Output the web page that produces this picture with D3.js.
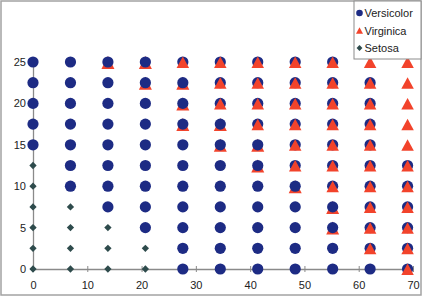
<!DOCTYPE html>
<html>
<head>
<meta charset="utf-8">
<script src="https://cdn.jsdelivr.net/npm/d3@7"></script>
<style>
  html, body { margin: 0; padding: 0; background: #fff; }
  svg { display: block; font-family: "Liberation Sans", Arial, sans-serif; }
</style>
</head>
<body>
<svg id="chart"></svg>
<script>
// grid positions
const xValues = [0, 6.9, 13.8, 20.7, 27.6, 34.5, 41.4, 48.3, 55.2, 62.1, 69];
const yValues = [0, 2.5, 5, 7.5, 10, 12.5, 15, 17.5, 20, 22.5, 25];
const xTicks = [0, 10, 20, 30, 40, 50, 60, 70];
const yTicks = [0, 5, 10, 15, 20, 25];
const seriesNames = ['Versicolor', 'Virginica', 'Setosa'];

// one string per row (y = 0 upward), one char per column
// S = Setosa, B = Versicolor, R = Virginica,
// b = Versicolor drawn over Virginica, r = Virginica drawn over Versicolor
const cellClasses = [
  'SSSSBBBBBBr',
  'SSSSBBBBBrr',
  'SSSBBBBBbrr',
  'SSBBBBBBbrr',
  'SBBBBBBbrrr',
  'SBBBBBbrrrr',
  'BBBBBbbrrrR',
  'BBBBbbrrrrR',
  'BBBBbrrrrrR',
  'BBBbbrrrrrR',
  'BBbbrrrrrRR',
];

const colors = {Versicolor: '#1d2b84', Virginica: '#f2432b', Setosa: '#2e4b4c'};

const W = 423, H = 298;
const svg = d3.select('#chart').attr('width', W).attr('height', H);

svg.append('rect')
  .attr('x', 1).attr('y', 1).attr('width', W - 3).attr('height', H - 4)
  .attr('fill', '#fff').attr('stroke', '#a3a3a3').attr('stroke-width', 1.5);

const x = d3.scaleLinear().domain([0, 70]).range([33, 413]);
const y = d3.scaleLinear().domain([0, 25]).range([269, 62]);

// flatten the grid into points
const cells = [];
cellClasses.forEach((row, ri) => {
  row.split('').forEach((c, ci) => {
    cells.push({x: xValues[ci], y: yValues[ri], code: c});
  });
});

// axes
const xAxis = svg.append('g')
  .attr('transform', `translate(0,${ y(0) })`)
  .call(d3.axisBottom(x).tickValues(xTicks).tickSizeInner(3).tickSizeOuter(0).tickPadding(9));
const yAxis = svg.append('g')
  .attr('transform', `translate(${ x(0) },0)`)
  .call(d3.axisLeft(y).tickValues(yTicks).tickSizeInner(3).tickSizeOuter(0).tickPadding(4));

[xAxis, yAxis].forEach(g => {
  g.select('.domain').attr('stroke', '#8a8a8a').attr('stroke-width', 1.3);
  g.selectAll('.tick text').attr('fill', '#222').style('font-size', '11px');
  g.attr('font-family', null).attr('font-size', null);
});
xAxis.selectAll('.tick line').attr('y1', -3).attr('y2', 3).attr('stroke', '#8a8a8a');
yAxis.selectAll('.tick line').attr('x1', -3).attr('x2', 3).attr('stroke', '#8a8a8a');

// Excel-like triangle marker: apex at top of the box, base at the bottom
const tri = (w, h) => `M0,${ -h / 2 }L${ w / 2 },${ h / 2 }L${ -w / 2 },${ h / 2 }Z`;
const diamond = d3.symbol().type(d3.symbolDiamond2).size(34);

const plot = svg.append('g');

// virginica under versicolor
plot.selectAll('.tri-under')
  .data(cells.filter(d => d.code === 'b'))
  .join('path')
  .attr('class', 'tri-under')
  .attr('d', tri(13, 13))
  .attr('transform', d => `translate(${ x(d.x) },${ y(d.y) + 0.5 })`)
  .attr('fill', colors.Virginica);

plot.selectAll('.circ')
  .data(cells.filter(d => 'Bbr'.includes(d.code)))
  .join('circle')
  .attr('class', 'circ')
  .attr('cx', d => x(d.x)).attr('cy', d => y(d.y))
  .attr('r', 5.6)
  .attr('fill', colors.Versicolor);

plot.selectAll('.tri-over')
  .data(cells.filter(d => d.code === 'r' || d.code === 'R'))
  .join('path')
  .attr('class', 'tri-over')
  .attr('d', tri(12.5, 11.5))
  .attr('transform', d => `translate(${ x(d.x) },${ y(d.y) + 0.3 })`)
  .attr('fill', colors.Virginica);

plot.selectAll('.dia')
  .data(cells.filter(d => d.code === 'S'))
  .join('path')
  .attr('class', 'dia')
  .attr('d', diamond)
  .attr('transform', d => `translate(${ x(d.x) },${ y(d.y) })`)
  .attr('fill', colors.Setosa);

// legend
const legend = svg.append('g');
legend.append('rect')
  .attr('x', 354).attr('y', 1).attr('width', 67).attr('height', 58)
  .attr('fill', '#fff').attr('stroke', '#8c8c8c').attr('stroke-width', 1);

const items = legend.selectAll('.item')
  .data(seriesNames)
  .join('g')
  .attr('class', 'item')
  .attr('transform', (d, i) => `translate(359.5,${ 13 + i * 17.5 })`);

items.each(function(d) {
  const g = d3.select(this);
  if (d === 'Versicolor') {
    g.append('circle').attr('r', 3.3).attr('fill', colors.Versicolor);
  } else if (d === 'Virginica') {
    g.append('path').attr('d', tri(7, 6.5)).attr('fill', colors.Virginica);
  } else {
    g.append('path').attr('d', d3.symbol().type(d3.symbolDiamond2).size(22)).attr('fill', colors.Setosa);
  }
});

items.append('text')
  .attr('x', 5).attr('y', 4)
  .style('font-size', '11px')
  .attr('fill', '#222')
  .text(d => d);
</script>
</body>
</html>
